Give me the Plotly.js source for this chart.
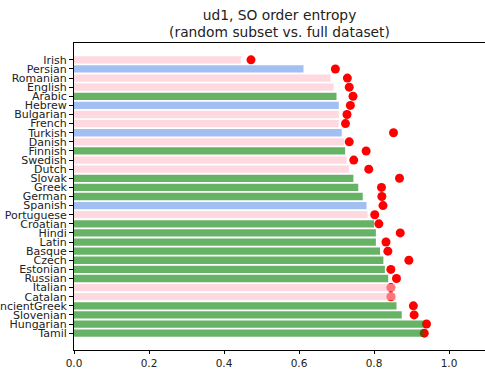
<!DOCTYPE html>
<html>
<head>
<meta charset="utf-8">
<script src="https://cdn.plot.ly/plotly-3.0.1.min.js"></script>
<style>html,body{margin:0;padding:0;background:#fff;}#chart{width:485px;height:369px;}</style>
</head>
<body>
<div id="chart"></div>
<script>
// Languages, top to bottom
const languages = ["Irish","Persian","Romanian","English","Arabic","Hebrew","Bulgarian","French","Turkish","Danish","Finnish","Swedish","Dutch","Slovak","Greek","German","Spanish","Portuguese","Croatian","Hindi","Latin","Basque","Czech","Estonian","Russian","Italian","Catalan","AncientGreek","Slovenian","Hungarian","Tamil"];
// Entropy on random subset (bars)
const subsetEntropy = [0.445,0.612,0.684,0.692,0.700,0.706,0.706,0.706,0.714,0.721,0.723,0.727,0.733,0.745,0.758,0.770,0.780,0.783,0.800,0.805,0.805,0.816,0.825,0.829,0.838,0.856,0.859,0.860,0.874,0.932,0.934];
// Entropy on full dataset (dots)
const fullEntropy = [0.472,0.697,0.729,0.734,0.744,0.737,0.728,0.724,0.852,0.734,0.779,0.746,0.786,0.868,0.820,0.821,0.824,0.802,0.813,0.870,0.832,0.837,0.893,0.845,0.860,0.845,0.845,0.905,0.907,0.940,0.934];
// Colour group of each bar
const groups = ["pink","blue","pink","pink","green","blue","pink","pink","blue","pink","green","pink","pink","green","green","green","blue","pink","green","green","green","green","green","green","green","pink","pink","green","green","green","green"];
const xTicks = [0.0,0.2,0.4,0.6,0.8,1.0];
const xTickText = ["0.0","0.2","0.4","0.6","0.8","1.0"];

const palette = {pink:"rgba(255,192,203,0.6)", blue:"rgba(100,149,237,0.6)", green:"rgba(0,128,0,0.6)"};
const n = languages.length;
const yRange = [n - 1 + 1.85, -1.85];
const font = "DejaVu Sans, sans-serif";

const traces = [
  {type:"scatter", mode:"markers", x:fullEntropy, y:languages, xaxis:"x", yaxis:"y",
   marker:{color:"#ff0000", size:9}, hoverinfo:"skip", showlegend:false},
  {type:"bar", orientation:"h", x:subsetEntropy, y:languages, xaxis:"x2", yaxis:"y2",
   width:0.8, marker:{color:groups.map(g=>palette[g]), line:{width:0}}, hoverinfo:"skip", showlegend:false}
];

const layout = {
  width:485, height:369,
  margin:{l:74, r:0, t:43, b:19, pad:0},
  paper_bgcolor:"#fff", plot_bgcolor:"#fff",
  font:{family:font, size:11, color:"#222"},
  title:{text:"ud1, SO order entropy<br>(random subset vs. full dataset)", xref:"paper", x:0.5, xanchor:"center", yref:"container", y:0.947, yanchor:"top", font:{family:font, size:13.8, color:"#222"}},
  xaxis:{range:[0,1.096], tickmode:"array", tickvals:xTicks, ticktext:xTickText, ticks:"outside", ticklen:3, tickwidth:1, tickcolor:"#000",
         showline:true, linecolor:"#000", linewidth:1, showgrid:false, zeroline:false, fixedrange:true,
         tickfont:{family:font, size:10.5, color:"#222"}},
  yaxis:{type:"category", categoryorder:"array", categoryarray:languages, tickmode:"array", tickvals:languages, ticktext:languages, range:yRange,
         ticks:"outside", ticklen:4, tickwidth:1, tickcolor:"#000",
         showline:true, linecolor:"#000", linewidth:1, showgrid:false, zeroline:false, fixedrange:true,
         tickfont:{family:font, size:11, color:"#222"}},
  xaxis2:{overlaying:"x", matches:"x", side:"top", range:[0,1.096], visible:true, showline:true, linecolor:"#000", linewidth:1,
          ticks:"", showticklabels:false, showgrid:false, zeroline:false, fixedrange:true},
  yaxis2:{overlaying:"y", matches:"y", type:"category", categoryorder:"array", categoryarray:languages, range:yRange, visible:false, showgrid:false, zeroline:false},
  bargap:0.2
};

Plotly.newPlot("chart", traces, layout, {displayModeBar:false, staticPlot:true});
</script>
</body>
</html>
